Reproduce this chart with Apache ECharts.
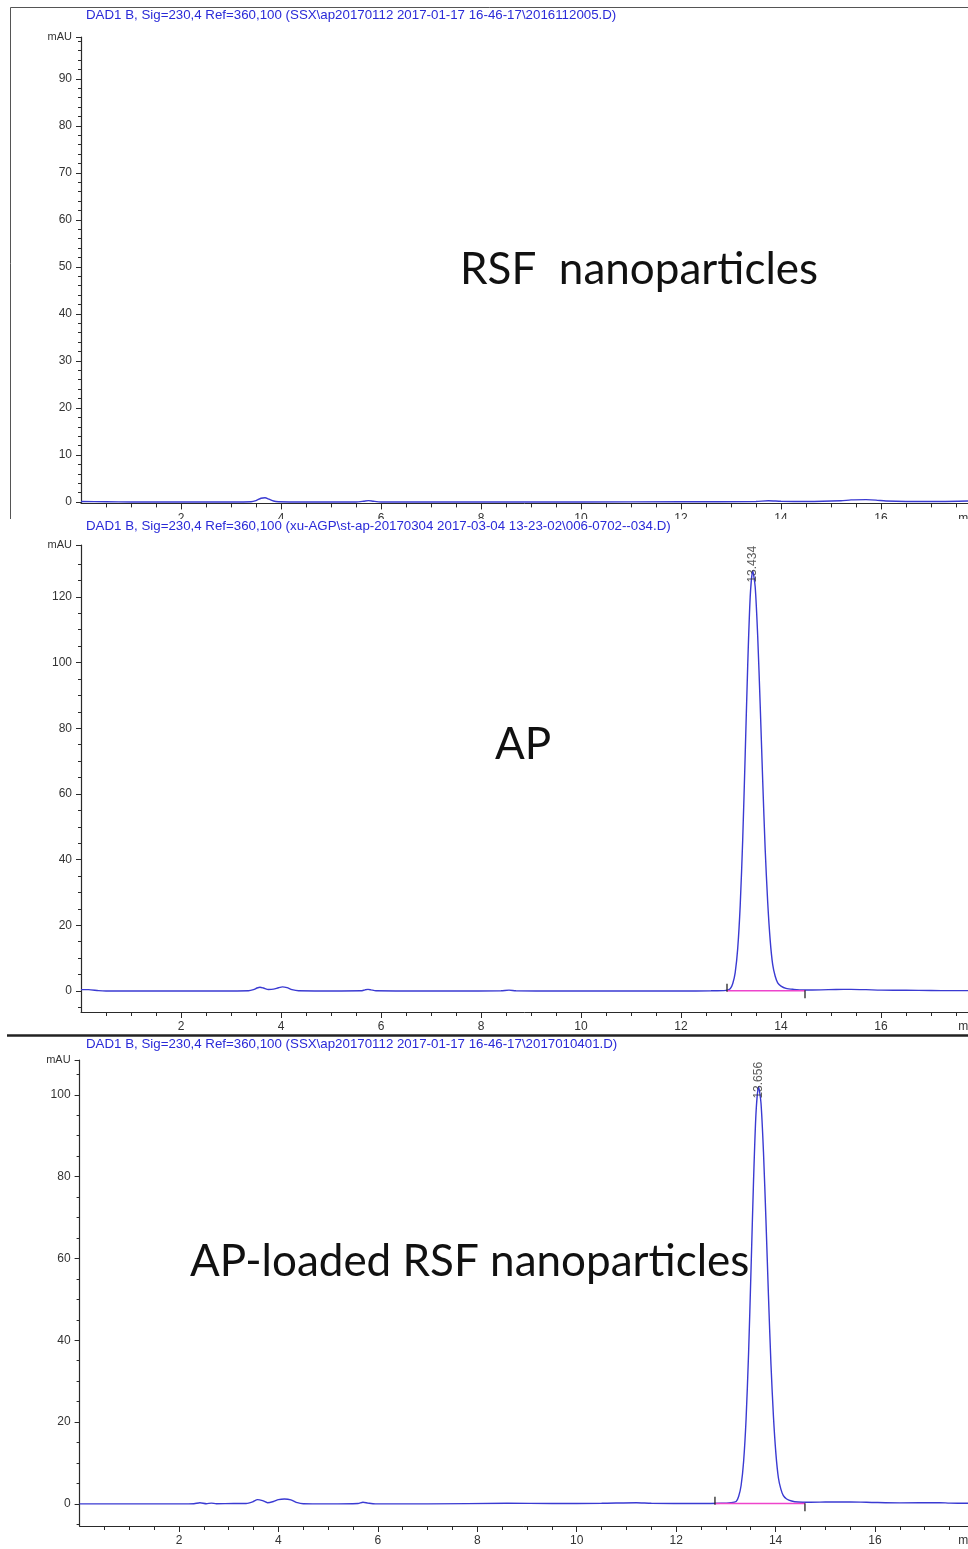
<!DOCTYPE html>
<html><head><meta charset="utf-8">
<script src="https://cdn.jsdelivr.net/npm/echarts@6/dist/echarts.min.js"></script>
<style>html,body{margin:0;padding:0;background:#fff;width:968px;height:1549px;overflow:hidden}
.p{position:absolute;left:0;width:968px}</style></head>
<body>
<div id="c1" class="p" style="top:0;height:519px"></div>
<div id="c2" class="p" style="top:519px;height:516px"></div>
<div id="c3" class="p" style="top:1033px;height:516px"></div>
<script>
// ---------- DATA ----------
const titles = [
  'DAD1 B, Sig=230,4 Ref=360,100 (SSX\\ap20170112 2017-01-17 16-46-17\\2016112005.D)',
  'DAD1 B, Sig=230,4 Ref=360,100 (xu-AGP\\st-ap-20170304 2017-03-04 13-23-02\\006-0702--034.D)',
  'DAD1 B, Sig=230,4 Ref=360,100 (SSX\\ap20170112 2017-01-17 16-46-17\\2017010401.D)'
];
const sampleNames = ['RSF  nanoparticles', 'AP', 'AP-loaded RSF nanoparticles'];

// Panel 1: RSF nanoparticles
const rsfTime   = [0, 0.5, 1, 2, 3, 3.4, 3.5, 3.6, 3.68, 3.76, 3.85, 3.95, 4.5, 5.5, 5.65, 5.75, 5.85, 6, 8, 10, 12, 13.5, 13.75, 14, 14.5, 15.2, 15.4, 15.7, 15.9, 16.1, 16.5, 17.2, 17.74];
const rsfSignal = [0.1, 0.05, 0, 0, 0, 0.05, 0.3, 0.8, 0.9, 0.6, 0.2, 0.05, 0, 0, 0.15, 0.3, 0.15, 0, 0, 0, 0.05, 0.1, 0.25, 0.15, 0.1, 0.25, 0.45, 0.5, 0.4, 0.2, 0.1, 0.1, 0.2];

// Panel 2: AP
const apTime = [0, 0.15, 0.35, 0.5, 1, 2, 3, 3.35, 3.45, 3.52, 3.58, 3.65, 3.75, 3.85, 3.95, 4.03, 4.12, 4.22, 4.35, 5, 5.6, 5.68, 5.74, 5.8, 5.9, 6.5, 7.5, 8.4, 8.56, 8.7, 9.5, 11, 12, 12.6, 12.9,
  12.984, 13.034, 13.084, 13.134, 13.184, 13.234, 13.284, 13.334, 13.384, 13.434, 13.484, 13.534, 13.584, 13.634, 13.684, 13.734, 13.784, 13.834, 13.884, 13.934, 14.0, 14.1,
  14.25, 14.45, 14.8, 15.1, 15.4, 15.7, 16.0, 16.5, 17.0, 17.4, 17.74];
const apSignal = [0.4, 0.4, 0.1, 0, 0, 0, 0, 0.05, 0.4, 0.9, 1.15, 0.9, 0.45, 0.55, 1.0, 1.25, 1.0, 0.4, 0.05, 0, 0.05, 0.35, 0.5, 0.35, 0.05, 0, 0, 0.05, 0.25, 0.05, 0, 0, 0, 0.05, 0.2,
  0.7, 2.2, 5.6, 12.9, 26, 46, 72, 99, 120, 128, 123, 108, 87, 64, 43, 27, 15.4, 8, 4.5, 2.5, 1.5, 0.8,
  0.5, 0.3, 0.35, 0.45, 0.5, 0.4, 0.25, 0.2, 0.15, 0.1, 0.1];
const apPeak = [13.434, 128];
const apBaseline = [[12.92, 0.1], [14.48, 0.1]];
const apMarks = [[12.92, 1.0], [14.48, -1.0]];

// Panel 3: AP-loaded RSF nanoparticles
const loadTime = [0, 1, 2, 2.3, 2.42, 2.55, 2.65, 2.75, 3.1, 3.35, 3.48, 3.58, 3.68, 3.78, 3.9, 4.0, 4.12, 4.25, 4.38, 4.5, 5, 5.6, 5.7, 5.8, 5.95, 7, 8.6, 9.5, 10.5, 11.2, 11.5, 12.4, 12.9, 13.1,
  13.206, 13.256, 13.306, 13.356, 13.406, 13.456, 13.506, 13.556, 13.606, 13.656, 13.706, 13.756, 13.806, 13.856, 13.906, 13.956, 14.006, 14.056, 14.106, 14.156, 14.222, 14.322,
  14.45, 14.7, 15.0, 15.5, 16.0, 16.5, 17.3, 17.5, 17.87];
const loadSignal = [0, 0, 0, 0.05, 0.3, 0.05, 0.2, 0.05, 0.1, 0.1, 0.5, 1.05, 0.8, 0.3, 0.6, 1.05, 1.2, 1.0, 0.3, 0.05, 0, 0.1, 0.4, 0.2, 0, 0, 0.15, 0.1, 0.15, 0.3, 0.15, 0.1, 0.15, 0.3,
  0.6, 1.8, 4.5, 10.3, 20.7, 36.7, 57.4, 78.9, 95.6, 102, 98, 86, 69.3, 51, 34.3, 21.5, 12.3, 6.4, 3.6, 2, 1.2, 0.7,
  0.45, 0.4, 0.45, 0.5, 0.35, 0.25, 0.3, 0.2, 0.15];
const loadPeak = [13.656, 102];
const loadBaseline = [[12.78, 0.1], [14.59, 0.1]];
const loadMarks = [[12.78, 0.8], [14.59, -0.8]];

// Axis tick labels
const xLabels = [2, 4, 6, 8, 10, 12, 14, 16];
const xMinor = [0.5, 1, 1.5, 2.5, 3, 3.5, 4.5, 5, 5.5, 6.5, 7, 7.5, 8.5, 9, 9.5, 10.5, 11, 11.5, 12.5, 13, 13.5, 14.5, 15, 15.5, 16.5, 17, 17.5];
const yLabels1 = [0, 10, 20, 30, 40, 50, 60, 70, 80, 90];
const yMinor1 = [2, 4, 6, 8, 12, 14, 16, 18, 22, 24, 26, 28, 32, 34, 36, 38, 42, 44, 46, 48, 52, 54, 56, 58, 62, 64, 66, 68, 72, 74, 76, 78, 82, 84, 86, 88, 92, 94, 96, 98];
const yLabels2 = [0, 20, 40, 60, 80, 100, 120];
const yMinor2 = [-5, 5, 10, 15, 25, 30, 35, 45, 50, 55, 65, 70, 75, 85, 90, 95, 105, 110, 115, 125, 130];
const yLabels3 = [0, 20, 40, 60, 80, 100];
const yMinor3 = [-5, 5, 10, 15, 25, 30, 35, 45, 50, 55, 65, 70, 75, 85, 90, 95, 105];

// ---------- BUILD ----------
const LINE = '#3a3ad2';
const AXIS = '#2a2a2a';
const LBL = '#333';
const FONT = "'Liberation Sans', Arial, sans-serif";
const zip = (a, b) => a.map((t, i) => [t, b[i]]);

function panel(el, c) {
  const chart = echarts.init(document.getElementById(el), null, {renderer: 'canvas'});
  const series = [{
    type: 'line', xAxisIndex: 0, yAxisIndex: 0, data: zip(c.time, c.signal),
    showSymbol: false, smooth: 0.25, lineStyle: {color: LINE, width: 1.4}, itemStyle: {color: LINE}, z: 3, animation: false
  }];
  if (c.baseline) {
    series.push({type: 'line', data: c.baseline, showSymbol: false, lineStyle: {color: '#ee44cc', width: 1.5}, z: 4, animation: false});
    series.push({type: 'scatter', data: c.marks, symbol: 'rect', symbolSize: [1.6, 8], itemStyle: {color: '#222'}, z: 5, animation: false});
    series.push({type: 'scatter', data: [c.peak], symbolSize: 0, z: 6, animation: false,
      label: {show: true, position: 'top', distance: -12, rotate: 90, align: 'left', verticalAlign: 'middle',
        formatter: p => p.value[0].toFixed(3), color: '#333', fontSize: 12, fontFamily: FONT}});
  }
  const xMajorAxis = {
    type: 'value', gridIndex: 0, position: 'bottom', min: 0, max: c.xMax,
    axisLine: {show: true, onZero: false, lineStyle: {color: AXIS, width: 1}},
    axisTick: {show: true, customValues: xLabels, length: 6, lineStyle: {color: AXIS}},
    axisLabel: {show: true, customValues: xLabels.concat([c.xMax]), margin: 9, color: LBL, fontSize: 12, fontFamily: FONT,
      formatter: v => (v === c.xMax ? 'min' : String(v))},
    splitLine: {show: false}
  };
  const xMinorAxis = {
    type: 'value', gridIndex: 0, position: 'bottom', min: 0, max: c.xMax,
    axisLine: {show: false, onZero: false}, axisLabel: {show: false}, splitLine: {show: false},
    axisTick: {show: true, customValues: xMinor, length: 4, lineStyle: {color: AXIS}}
  };
  const yMajorAxis = {
    type: 'value', gridIndex: 0, position: 'left', min: c.yMin, max: c.yMax,
    axisLine: {show: true, onZero: false, lineStyle: {color: AXIS, width: 1.2}},
    axisTick: {show: true, customValues: c.yLabels.concat([c.yMax]), length: 5, lineStyle: {color: AXIS}},
    axisLabel: {show: true, customValues: c.yLabels.concat([c.yMax]), margin: 9, color: LBL, fontSize: 12, fontFamily: FONT,
      formatter: v => (v === c.yMax ? '{u|mAU}' : String(v)),
      rich: {u: {fontSize: 11, color: LBL, fontFamily: FONT}}},
    splitLine: {show: false}
  };
  const yMinorAxis = {
    type: 'value', gridIndex: 0, position: 'left', min: c.yMin, max: c.yMax,
    axisLine: {show: false, onZero: false}, axisLabel: {show: false}, splitLine: {show: false},
    axisTick: {show: true, customValues: c.yMinor, length: 3, lineStyle: {color: AXIS}}
  };
  chart.setOption({
    animation: false,
    backgroundColor: 'transparent',
    title: {text: c.title, left: 86, top: c.titleTop, padding: 0,
      textStyle: {color: '#2a2ad8', fontSize: 13.3, fontWeight: 'normal', fontFamily: FONT}},
    grid: {left: c.gridLeft, right: 0, top: c.gridTop, bottom: c.gridBottom, containLabel: false, outerBoundsMode: 'none'},
    xAxis: [xMajorAxis, xMinorAxis],
    yAxis: [yMajorAxis, yMinorAxis],
    series: series,
    graphic: c.graphic
  });
}

const bigFont = "Lato, 'Open Sans', sans-serif";

panel('c1', {
  title: titles[0], titleTop: 9,
  time: rsfTime, signal: rsfSignal,
  xMax: 17.74, yMin: -0.3, yMax: 98.9,
  yLabels: yLabels1, yMinor: yMinor1,
  gridLeft: 81, gridTop: 37, gridBottom: 15.6,
  graphic: [
    {type: 'polyline', shape: {points: [[10.5, 519], [10.5, 7.5], [968, 7.5]]}, style: {stroke: '#555', lineWidth: 1, fill: null}},
    {type: 'text', x: 460, y: 270, style: {text: sampleNames[0], fontSize: 44, fontFamily: bigFont, fill: '#111', align: 'left', verticalAlign: 'middle'}}
  ]
});

panel('c2', {
  title: titles[1], titleTop: 1,
  time: apTime, signal: apSignal,
  baseline: apBaseline, marks: apMarks, peak: apPeak,
  xMax: 17.74, yMin: -6.4, yMax: 135.8,
  yLabels: yLabels2, yMinor: yMinor2,
  gridLeft: 81, gridTop: 26, gridBottom: 23,
  graphic: [
    {type: 'text', x: 495, y: 226, style: {text: sampleNames[1], fontSize: 44, fontFamily: bigFont, fill: '#111', align: 'left', verticalAlign: 'middle'}}
  ]
});

panel('c3', {
  title: titles[2], titleTop: 5,
  time: loadTime, signal: loadSignal,
  baseline: loadBaseline, marks: loadMarks, peak: loadPeak,
  xMax: 17.87, yMin: -5.4, yMax: 108.5,
  yLabels: yLabels3, yMinor: yMinor3,
  gridLeft: 79.6, gridTop: 27, gridBottom: 23,
  graphic: [
    {type: 'line', shape: {x1: 7, y1: 2.5, x2: 968, y2: 2.5}, style: {stroke: '#222', lineWidth: 2.5}},
    {type: 'text', x: 190, y: 229, style: {text: sampleNames[2], fontSize: 44, fontFamily: bigFont, fill: '#111', align: 'left', verticalAlign: 'middle'}}
  ]
});
</script>
</body></html>
